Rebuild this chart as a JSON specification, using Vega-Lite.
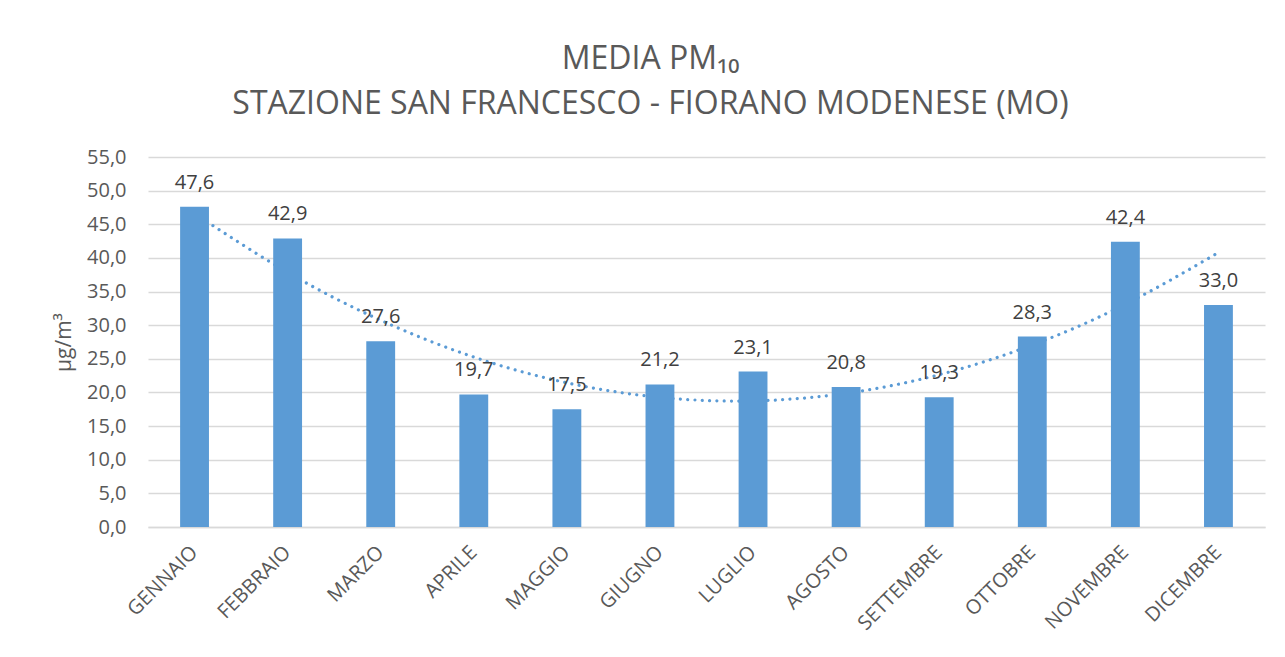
{
  "$schema": "https://vega.github.io/schema/vega-lite/v6.json",
  "autosize": "none",
  "width": 1117,
  "height": 370,
  "padding": {"left": 148, "top": 157, "right": 20, "bottom": 130},
  "background": "white",
  "title": {
    "text": ["MEDIA PM₁₀", "STAZIONE SAN FRANCESCO - FIORANO MODENESE (MO)"],
    "anchor": "middle",
    "dx": -56,
    "offset": 26,
    "font": "Open Sans",
    "fontSize": 32,
    "fontWeight": "normal",
    "color": "#595959",
    "lineHeight": 45
  },
  "data": {
    "values": [
      {"mese": "GENNAIO", "valore": 47.6, "trend": 46.6},
      {"mese": "FEBBRAIO", "valore": 42.9, "trend": 37.85},
      {"mese": "MARZO", "valore": 27.6, "trend": 30.73},
      {"mese": "APRILE", "valore": 19.7, "trend": 25.26},
      {"mese": "MAGGIO", "valore": 17.5, "trend": 21.44},
      {"mese": "GIUGNO", "valore": 21.2, "trend": 19.27},
      {"mese": "LUGLIO", "valore": 23.1, "trend": 18.75},
      {"mese": "AGOSTO", "valore": 20.8, "trend": 19.87},
      {"mese": "SETTEMBRE", "valore": 19.3, "trend": 22.64},
      {"mese": "OTTOBRE", "valore": 28.3, "trend": 27.05},
      {"mese": "NOVEMBRE", "valore": 42.4, "trend": 33.11},
      {"mese": "DICEMBRE", "valore": 33.0, "trend": 40.8}
    ]
  },
  "encoding": {
    "x": {
      "field": "mese",
      "type": "ordinal",
      "sort": null,
      "title": null,
      "scale": {"paddingInner": 0.69, "paddingOuter": 0.345},
      "axis": {
        "labelAngle": -45,
        "labelAlign": "right",
        "labelBaseline": "middle",
        "labelPadding": 22,
        "labelOverlap": false,
        "labelFont": "Open Sans",
        "labelFontSize": 20,
        "labelColor": "#595959",
        "ticks": false,
        "domainColor": "#D9D9D9",
        "domainWidth": 1.5
      }
    }
  },
  "layer": [
    {
      "mark": {
        "type": "line",
        "interpolate": "natural",
        "color": "#5B9BD5",
        "strokeWidth": 3.2,
        "strokeCap": "round",
        "strokeDash": [0.01, 7.3]
      },
      "encoding": {
        "y": {
          "field": "trend",
          "type": "quantitative",
          "scale": {"domain": [0, 55], "nice": false},
          "title": "µg/m³",
          "axis": {"values": [0, 5, 10, 15, 20, 25, 30, 35, 40, 45, 50, 55], "format": ".1f", "labelOverlap": false}
        }
      }
    },
    {
      "mark": {"type": "bar", "color": "#5B9BD5"},
      "encoding": {
        "y": {
          "field": "valore",
          "type": "quantitative",
          "title": "µg/m³",
          "axis": {"values": [0, 5, 10, 15, 20, 25, 30, 35, 40, 45, 50, 55], "format": ".1f", "labelOverlap": false}
        }
      }
    },
    {
      "mark": {
        "type": "text",
        "baseline": "bottom",
        "dy": -14,
        "font": "Open Sans",
        "fontSize": 20,
        "color": "#404040"
      },
      "encoding": {
        "y": {
          "field": "valore",
          "type": "quantitative",
          "title": "µg/m³",
          "axis": {"values": [0, 5, 10, 15, 20, 25, 30, 35, 40, 45, 50, 55], "format": ".1f", "labelOverlap": false}
        },
        "text": {"field": "valore", "type": "quantitative", "format": ".1f"}
      }
    }
  ],
  "config": {
    "locale": {
      "number": {"decimal": ",", "thousands": ".", "grouping": [3], "currency": ["", " €"]}
    },
    "axisY": {
      "domain": false,
      "ticks": false,
      "grid": true,
      "gridColor": "#D9D9D9",
      "gridWidth": 1.3,
      "labelPadding": 22,
      "labelFont": "Open Sans",
      "labelFontSize": 20,
      "labelColor": "#595959",
      "labelOverlap": false,
      "titleFont": "Open Sans",
      "titleFontSize": 21,
      "titleFontWeight": "normal",
      "titleColor": "#595959",
      "titlePadding": 12
    },
    "view": {"stroke": null}
  }
}
